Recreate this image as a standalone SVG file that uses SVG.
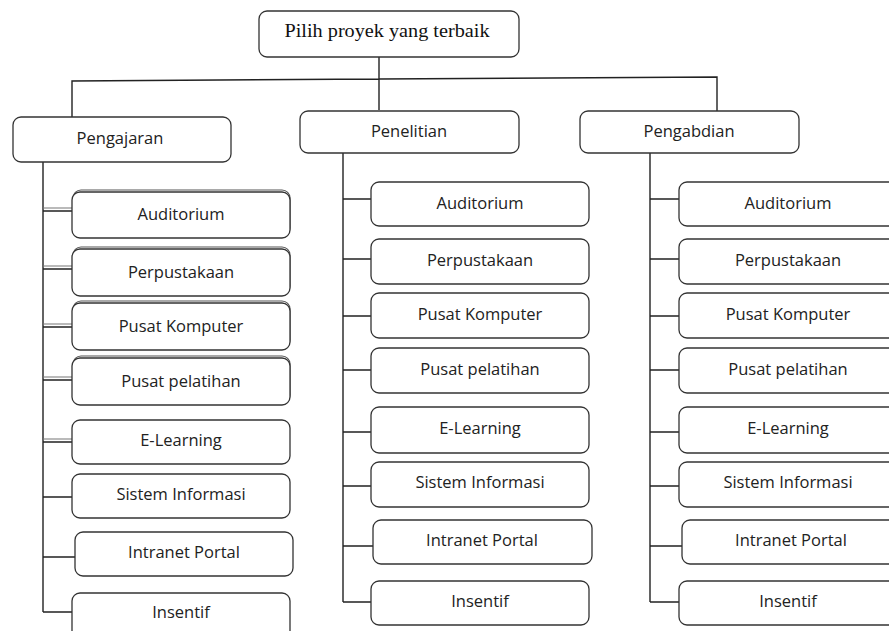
<svg xmlns="http://www.w3.org/2000/svg" width="889" height="631" viewBox="0 0 889 631">
<style>
.box{fill:#fff;stroke:#333;stroke-width:1.3}
.dbl{fill:none;stroke:#555;stroke-width:1.2}
.t{font-family:"Open Sans","Noto Sans",sans-serif;font-size:16.5px;fill:#222;text-anchor:middle;dominant-baseline:central}
.ts{font-family:"Liberation Serif",serif;font-size:19px;fill:#111;text-anchor:middle;dominant-baseline:central}
.c{fill:none;stroke:#222;stroke-width:1.4}
.c2{fill:none;stroke:#777;stroke-width:1.2}
</style>
<rect width="889" height="631" fill="#fff"/>
<g id="connectors">
<path class="c" d="M379 57V110M72 117V81L379 79L717 77V111"/>
<path class="c" d="M43 162V612M343 153V602M650 153V602"/>
<path class="c" d="M43 211H72M43 269H72M43 327H72M43 380H72M43 442H72M43 497H72M43 557H75M43 612H72"/>
<path class="c2" d="M43 208H72M43 266H72M43 324H72M43 377H72M43 439H72"/>
<path class="c" d="M343 199H371M343 259H371M343 316H371M343 370H371M343 432H371M343 486H371M343 546H373M343 602H371"/>
<path class="c" d="M650 199H679M650 259H679M650 316H679M650 370H679M650 432H679M650 486H679M650 546H682M650 602H679"/>
</g>
<g id="root"><rect class="box" x="259" y="11" width="260" height="46" rx="8"/><text class="ts" x="387" y="30" textLength="205" lengthAdjust="spacingAndGlyphs">Pilih proyek yang terbaik</text></g>
<g id="pengajaran"><rect class="box" x="13" y="117" width="218" height="45" rx="8"/><text class="t" x="120" y="137">Pengajaran</text></g>
<g id="penelitian"><rect class="box" x="300" y="111" width="219" height="42" rx="8"/><text class="t" x="409" y="130">Penelitian</text></g>
<g id="pengabdian"><rect class="box" x="580" y="111" width="219" height="42" rx="8"/><text class="t" x="689" y="130">Pengabdian</text></g>

<g id="a1"><rect class="dbl" x="73" y="190" width="217" height="46" rx="8"/><rect class="box" x="72" y="192" width="218" height="46" rx="8"/><text class="t" x="181" y="213">Auditorium</text></g>
<g id="a2"><rect class="dbl" x="73" y="247" width="217" height="47" rx="8"/><rect class="box" x="72" y="249" width="218" height="47" rx="8"/><text class="t" x="181" y="271">Perpustakaan</text></g>
<g id="a3"><rect class="dbl" x="73" y="301" width="217" height="47" rx="8"/><rect class="box" x="72" y="303" width="218" height="47" rx="8"/><text class="t" x="181" y="325">Pusat Komputer</text></g>
<g id="a4"><rect class="dbl" x="73" y="356" width="217" height="47" rx="8"/><rect class="box" x="72" y="358" width="218" height="47" rx="8"/><text class="t" x="181" y="380">Pusat pelatihan</text></g>
<g id="a5"><rect class="box" x="72" y="420" width="218" height="44" rx="8"/><text class="t" x="181" y="439">E-Learning</text></g>
<g id="a6"><rect class="box" x="72" y="474" width="218" height="44" rx="8"/><text class="t" x="181" y="493">Sistem Informasi</text></g>
<g id="a7"><rect class="box" x="75" y="532" width="218" height="44" rx="8"/><text class="t" x="184" y="551">Intranet Portal</text></g>
<g id="a8"><rect class="box" x="72" y="593" width="218" height="46" rx="8"/><text class="t" x="181" y="611">Insentif</text></g>

<g id="b1"><rect class="box" x="371" y="182" width="218" height="44" rx="8"/><text class="t" x="480" y="202">Auditorium</text></g>
<g id="b2"><rect class="box" x="371" y="239" width="218" height="45" rx="8"/><text class="t" x="480" y="259">Perpustakaan</text></g>
<g id="b3"><rect class="box" x="371" y="293" width="218" height="45" rx="8"/><text class="t" x="480" y="313">Pusat Komputer</text></g>
<g id="b4"><rect class="box" x="371" y="348" width="218" height="45" rx="8"/><text class="t" x="480" y="368">Pusat pelatihan</text></g>
<g id="b5"><rect class="box" x="371" y="407" width="218" height="46" rx="8"/><text class="t" x="480" y="427">E-Learning</text></g>
<g id="b6"><rect class="box" x="371" y="462" width="218" height="45" rx="8"/><text class="t" x="480" y="481">Sistem Informasi</text></g>
<g id="b7"><rect class="box" x="373" y="520" width="219" height="44" rx="8"/><text class="t" x="482" y="539">Intranet Portal</text></g>
<g id="b8"><rect class="box" x="371" y="581" width="218" height="44" rx="8"/><text class="t" x="480" y="600">Insentif</text></g>

<g id="c1"><rect class="box" x="679" y="182" width="218" height="44" rx="8"/><text class="t" x="788" y="202">Auditorium</text></g>
<g id="c2"><rect class="box" x="679" y="239" width="218" height="45" rx="8"/><text class="t" x="788" y="259">Perpustakaan</text></g>
<g id="c3"><rect class="box" x="679" y="293" width="218" height="45" rx="8"/><text class="t" x="788" y="313">Pusat Komputer</text></g>
<g id="c4"><rect class="box" x="679" y="348" width="218" height="45" rx="8"/><text class="t" x="788" y="368">Pusat pelatihan</text></g>
<g id="c5"><rect class="box" x="679" y="407" width="218" height="46" rx="8"/><text class="t" x="788" y="427">E-Learning</text></g>
<g id="c6"><rect class="box" x="679" y="462" width="218" height="45" rx="8"/><text class="t" x="788" y="481">Sistem Informasi</text></g>
<g id="c7"><rect class="box" x="682" y="520" width="218" height="44" rx="8"/><text class="t" x="791" y="539">Intranet Portal</text></g>
<g id="c8"><rect class="box" x="679" y="581" width="218" height="44" rx="8"/><text class="t" x="788" y="600">Insentif</text></g>
</svg>
